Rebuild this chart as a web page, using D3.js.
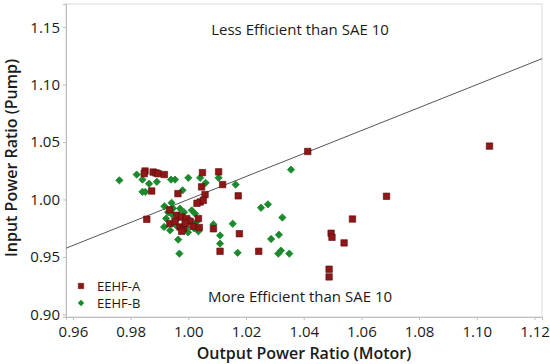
<!DOCTYPE html>
<html><head><meta charset="utf-8">
<script src="https://cdn.jsdelivr.net/npm/d3@7"></script>
<style>body{margin:0;background:#fff}svg{display:block}text{font-family:"Open Sans","Noto Sans",sans-serif}</style>
</head><body><svg id="c" width="550" height="364"></svg>
<script>
const seriesNames = ["EEHF-A", "EEHF-B"];
const xTicks = [0.96, 0.98, 1.00, 1.02, 1.04, 1.06, 1.08, 1.10, 1.12];
const yTicks = [0.90, 0.95, 1.00, 1.05, 1.10, 1.15];
const refLine = [[0.95, 0.95], [1.13, 1.13]];
const annotations = ["Less Efficient than SAE 10", "More Efficient than SAE 10"];
const eehfA_x = [0.9850,0.9847,0.9878,0.9888,0.9895,0.9917,0.9873,0.9964,0.9856,0.9935,1.0049,1.0105,1.0119,1.0046,1.0058,1.0173,1.0041,1.0052,1.0038,1.0087,1.0177,1.0110,1.0244,1.0414,1.1044,1.0687,1.0569,1.0495,1.0498,1.0540,1.0488,1.0488,0.9960,0.9977,0.9994,1.0006,1.0035,0.9936,0.9971,0.9983,0.9989,1.0030,0.9977,1.0016,0.9954];
const eehfA_y = [1.0248,1.0225,1.0239,1.0231,1.0225,1.0217,1.0074,1.0051,0.9828,0.9910,1.0234,1.0241,1.0130,1.0110,1.0043,1.0032,0.9978,0.9993,0.9756,0.9745,0.9702,0.9549,0.9549,1.0418,1.0465,1.0028,0.9830,0.9706,0.9671,0.9622,0.9393,0.9326,0.9863,0.9848,0.9834,0.9810,0.9834,0.9790,0.9761,0.9747,0.9793,0.9967,0.9723,0.9767,0.9810];
const eehfB_x = [0.9761,0.9821,0.9841,0.9864,0.9891,0.9841,0.9851,0.9940,0.9954,0.9980,1.0000,1.0041,1.0060,1.0105,1.0164,1.0356,1.0252,1.0276,1.0326,1.0154,1.0087,1.0110,1.0110,1.0035,1.0287,1.0314,1.0171,1.0312,1.0321,1.0350,0.9965,0.9969,0.9917,0.9942,0.9923,0.9916,0.9971,1.0012,1.0023,1.0006,0.9943,0.9930,0.9957,0.9992,1.0020,0.9937,0.9964,0.9985,1.0027,0.9999,0.9947];
const eehfB_y = [1.0167,1.0217,1.0173,1.0137,1.0154,1.0067,1.0067,1.0173,1.0173,1.0080,1.0189,1.0189,1.0145,1.0189,1.0130,1.0260,0.9928,0.9958,0.9843,0.9789,0.9783,0.9687,0.9616,0.9723,0.9656,0.9693,0.9536,0.9529,0.9555,0.9529,0.9651,0.9529,0.9941,0.9971,0.9834,0.9761,0.9921,0.9906,0.9877,0.9819,0.9871,0.9889,0.9776,0.9758,0.9749,0.9732,0.9836,0.9889,0.9802,0.9715,0.9923];

const colA = "#8e1717", colA_s = "#5c0c0c", colB = "#1a8a2c";
const svg = d3.select("#c");
const L = 66, R = 542, T = 4, B = 317;
const x = d3.scaleLinear().domain([0.9576, 1.1226]).range([L, R]);
const y = d3.scaleLinear().domain([0.8977, 1.1702]).range([B, T]);

svg.append("rect").attr("x", L).attr("y", T).attr("width", R - L).attr("height", B - T)
  .attr("fill", "none").attr("stroke", "#d9d9d9").attr("stroke-width", 1);

const fmt = d3.format(".2f");
const xa = svg.append("g").attr("transform", `translate(0,${B})`)
  .call(d3.axisBottom(x).tickValues(xTicks).tickFormat(fmt).tickSize(3).tickPadding(3));
const ya = svg.append("g").attr("transform", `translate(${L},0)`)
  .call(d3.axisLeft(y).tickValues(yTicks).tickFormat(fmt).tickSize(3).tickPadding(3));
[xa, ya].forEach(a => {
  a.select(".domain").attr("stroke", "#bdbdbd");
  a.selectAll(".tick line").attr("stroke", "#bdbdbd");
  a.selectAll("text").attr("fill", "#1a1a1a").style("font-size", "15px");
});
xa.selectAll("text").attr("dy", "0.95em");

svg.append("clipPath").attr("id", "clip").append("rect")
  .attr("x", L).attr("y", T).attr("width", R - L).attr("height", B - T);

const g = svg.append("g").attr("clip-path", "url(#clip)");
g.append("line")
  .attr("x1", x(refLine[0][0])).attr("y1", y(refLine[0][1]))
  .attr("x2", x(refLine[1][0])).attr("y2", y(refLine[1][1]))
  .attr("stroke", "#555").attr("stroke-width", 1);

const dataB = eehfB_x.map((v, i) => [v, eehfB_y[i]]);
const dataA = eehfA_x.map((v, i) => [v, eehfA_y[i]]);
const diamond = d3.symbol().type(d3.symbolDiamond2).size(34);
const square = d3.symbol().type(d3.symbolSquare).size(42);

g.selectAll(".b").data(dataB).join("path").attr("class", "b")
  .attr("d", diamond).attr("transform", d => `translate(${x(d[0])},${y(d[1])})`)
  .attr("fill", colB).attr("stroke", colB).attr("stroke-width", 0.8).attr("stroke-linejoin", "round");
g.selectAll(".a").data(dataA).join("path").attr("class", "a")
  .attr("d", square).attr("transform", d => `translate(${x(d[0])},${y(d[1])})`)
  .attr("fill", colA).attr("stroke", colA_s).attr("stroke-width", 0.6);

svg.append("text").attr("x", 300).attr("y", 35).attr("text-anchor", "middle")
  .style("font-size", "15px").attr("fill", "#1a1a1a").text(annotations[0]);
svg.append("text").attr("x", 300).attr("y", 302).attr("text-anchor", "middle")
  .style("font-size", "15px").attr("fill", "#1a1a1a").text(annotations[1]);

const lg = svg.append("g");
lg.append("path").attr("d", d3.symbol().type(d3.symbolSquare).size(30))
  .attr("transform", "translate(81,286)").attr("fill", colA).attr("stroke", colA_s).attr("stroke-width", 0.5);
lg.append("path").attr("d", d3.symbol().type(d3.symbolDiamond2).size(26))
  .attr("transform", "translate(81,303)").attr("fill", colB);
lg.append("text").attr("x", 97).attr("y", 290.5).style("font-size", "13px").attr("fill", "#1a1a1a").text(seriesNames[0]);
lg.append("text").attr("x", 97).attr("y", 307.5).style("font-size", "13px").attr("fill", "#1a1a1a").text(seriesNames[1]);

svg.append("text").attr("x", 304).attr("y", 359).attr("text-anchor", "middle")
  .style("font-size", "16px").style("font-weight", "600").attr("fill", "#1a1a1a")
  .text("Output Power Ratio (Motor)");
svg.append("text").attr("transform", "translate(17,158) rotate(-90)").attr("text-anchor", "middle")
  .style("font-size", "16px").style("font-weight", "600").attr("fill", "#1a1a1a")
  .text("Input Power Ratio (Pump)");
</script></body></html>
